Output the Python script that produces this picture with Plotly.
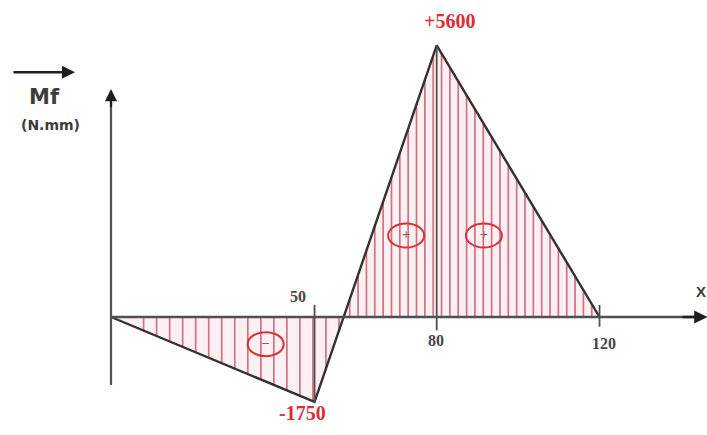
import numpy as np
import plotly.graph_objects as go

# Bending moment diagram Mf(x) in N.mm
x_pts = [0, 50, 80, 120]
mf_vals = [0, -1750, 5600, 0]
tick_vals = [50, 80, 120]
tick_text = ["50", "80", "120"]
peak_labels = ["+5600", "-1750"]

# sign markers inside the hatched areas
sign_x = [38, 72.5, 91.6]
sign_y = [-560, 1680, 1680]
sign_text = ["−", "+", "+"]

RED = "rgb(222,45,55)"
HATCH = "rgb(205,115,130)"
OUTLINE = "rgb(50,50,50)"
AXIS = "rgb(80,80,80)"

x_zero = x_pts[1] + (x_pts[2] - x_pts[1]) * (-mf_vals[1]) / (mf_vals[2] - mf_vals[1])

fig = go.Figure()

# light fill under the diagram
fig.add_trace(go.Scatter(x=x_pts, y=mf_vals, mode="lines", line=dict(width=0),
                         fill="tozeroy", fillcolor="rgba(250,222,226,0.45)",
                         hoverinfo="skip", showlegend=False))

# vertical hatching: wider spacing in the negative zone, tighter in the positive one
hx = np.concatenate([np.arange(8, x_zero, 3.2), np.arange(x_zero + 1.5, x_pts[-1], 2.05)])
hy = np.interp(hx, x_pts, mf_vals)
xs, ys = [], []
for a, b in zip(hx, hy):
    xs += [a, a, None]
    ys += [0, b, None]
fig.add_trace(go.Scatter(x=xs, y=ys, mode="lines", line=dict(color=HATCH, width=1.7),
                         hoverinfo="skip", showlegend=False))

# diagram outline
fig.add_trace(go.Scatter(x=x_pts, y=mf_vals, mode="lines",
                         line=dict(color=OUTLINE, width=2.4), showlegend=False))

# x axis and y axis lines
fig.add_trace(go.Scatter(x=[0, 145], y=[0, 0], mode="lines",
                         line=dict(color=AXIS, width=2.4), showlegend=False))
fig.add_trace(go.Scatter(x=[0, 0], y=[-1400, 4450], mode="lines",
                         line=dict(color=AXIS, width=2.2), showlegend=False))

# reference verticals at the key abscissas
vx, vy = [], []
vx += [tick_vals[0], tick_vals[0], None]; vy += [250, mf_vals[1], None]
vx += [tick_vals[1], tick_vals[1], None]; vy += [-280, mf_vals[2], None]
vx += [tick_vals[2], tick_vals[2], None]; vy += [250, -200, None]
fig.add_trace(go.Scatter(x=vx, y=vy, mode="lines", line=dict(color=AXIS, width=1.8),
                         showlegend=False))

# sign labels
fig.add_trace(go.Scatter(x=sign_x, y=sign_y, mode="text", text=sign_text,
                         textfont=dict(family="DejaVu Sans", size=11, color="rgb(150,90,90)"),
                         showlegend=False))

shapes = []
for sx, sy in zip(sign_x, sign_y):
    shapes.append(dict(type="circle", xref="x", yref="y", xsizemode="pixel", ysizemode="pixel",
                       xanchor=sx, yanchor=sy, x0=-18, x1=18, y0=-12, y1=12,
                       line=dict(color=RED, width=2)))

annotations = [
    # axis arrow heads
    dict(x=146.5, y=0, ax=140, ay=0, xref="x", yref="y", axref="x", ayref="y",
         showarrow=True, arrowhead=2, arrowsize=1.1, arrowwidth=2.4, arrowcolor="rgb(30,30,30)", text=""),
    dict(x=0, y=4700, ax=0, ay=4300, xref="x", yref="y", axref="x", ayref="y",
         showarrow=True, arrowhead=2, arrowsize=1.1, arrowwidth=2.2, arrowcolor="rgb(30,30,30)", text=""),
    # vector arrow above Mf
    dict(x=0.106, y=0.834, ax=-63, ay=0, xref="paper", yref="paper", axref="pixel", ayref="pixel",
         showarrow=True, arrowhead=2, arrowsize=1.0, arrowwidth=2.6, arrowcolor="rgb(30,30,30)", text=""),
    dict(x=0.063, y=0.777, xref="paper", yref="paper", xanchor="center", yanchor="middle",
         text="<b>Mf</b>", showarrow=False,
         font=dict(family="DejaVu Sans", size=21, color="rgb(60,60,60)")),
    dict(x=0.071, y=0.712, xref="paper", yref="paper", xanchor="center", yanchor="middle",
         text="<b>(N.mm)</b>", showarrow=False,
         font=dict(family="DejaVu Sans", size=14, color="rgb(60,60,60)")),
    dict(x=0.991, y=0.331, xref="paper", yref="paper", xanchor="center", yanchor="middle",
         text="<b>X</b>", showarrow=False,
         font=dict(family="Liberation Sans", size=15, color="rgb(60,60,60)")),
    # extreme values
    dict(x=x_pts[2], y=mf_vals[2], xref="x", yref="y", text="<b>" + peak_labels[0] + "</b>",
         showarrow=False, yshift=24, xshift=13,
         font=dict(family="Liberation Serif", size=20, color=RED)),
    dict(x=x_pts[1], y=mf_vals[1], xref="x", yref="y", text="<b>" + peak_labels[1] + "</b>",
         showarrow=False, yshift=-11, xshift=-12,
         font=dict(family="Liberation Serif", size=20, color=RED)),
    # abscissa labels
    dict(x=tick_vals[0], y=0, xref="x", yref="y", text="<b>" + tick_text[0] + "</b>",
         showarrow=False, yshift=21, xshift=-17,
         font=dict(family="Liberation Serif", size=16, color="rgb(70,70,70)")),
    dict(x=tick_vals[1], y=0, xref="x", yref="y", text="<b>" + tick_text[1] + "</b>",
         showarrow=False, yshift=-23, xshift=-1,
         font=dict(family="Liberation Serif", size=16, color="rgb(70,70,70)")),
    dict(x=tick_vals[2], y=0, xref="x", yref="y", text="<b>" + tick_text[2] + "</b>",
         showarrow=False, yshift=-26, xshift=4,
         font=dict(family="Liberation Serif", size=16, color="rgb(70,70,70)")),
]

fig.update_layout(
    width=707, height=435,
    margin=dict(l=0, r=0, t=0, b=0),
    paper_bgcolor="white", plot_bgcolor="white",
    xaxis=dict(range=[-27.27, 146.4], visible=False, fixedrange=True),
    yaxis=dict(range=[-2433, 6536], visible=False, fixedrange=True),
    shapes=shapes,
    annotations=annotations,
    showlegend=False,
)

fig.write_html("out.html")
